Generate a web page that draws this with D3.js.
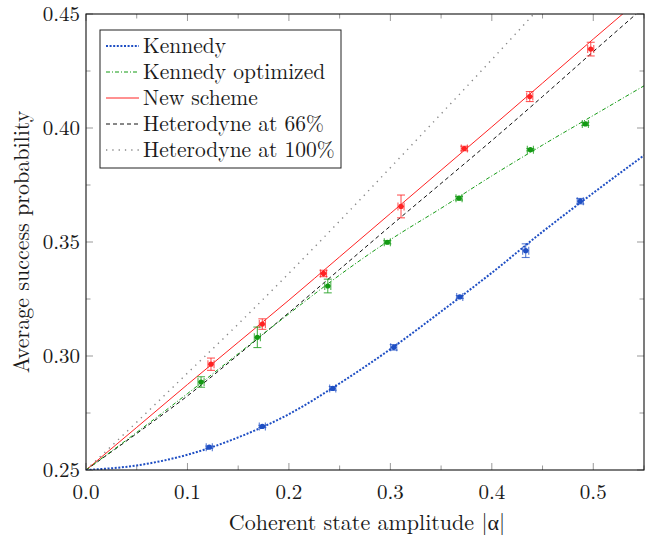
<!DOCTYPE html>
<html>
<head>
<meta charset="utf-8">
<script src="https://cdn.jsdelivr.net/npm/d3@7"></script>
<style>
  body { margin: 0; background: #fff; }
  text { font-family: "Latin Modern Roman", "CMU Serif", "Liberation Serif", serif; fill: #1a1a1a; }
</style>
</head>
<body>
<div id="chart"></div>
<script>
// --------------- Data ---------------
const curveAlpha = [0, 0.05, 0.1, 0.15, 0.2, 0.25, 0.3, 0.35, 0.4, 0.45, 0.5, 0.55];
const kennedyCurve = [0.25, 0.252, 0.2567, 0.2643, 0.2745, 0.288, 0.303, 0.3195, 0.3365, 0.3545, 0.3715, 0.388];
const optimizedCurve = [0.25, 0.2665, 0.2835, 0.301, 0.3185, 0.3355, 0.351, 0.3648, 0.379, 0.3925, 0.4055, 0.4185];
const newSchemeCurve = [0.25, 0.2687, 0.2875, 0.306, 0.3245, 0.3435, 0.3625, 0.3815, 0.4005, 0.4197, 0.439, 0.458];
const het66Curve = [0.25, 0.266, 0.2825, 0.3005, 0.319, 0.338, 0.357, 0.3757, 0.3945, 0.4138, 0.4335, 0.453];
const het100Curve = [0.25, 0.271, 0.2925, 0.314, 0.3363, 0.3592, 0.3826, 0.4062, 0.43, 0.4542, 0.4785, 0.503];

const kennedyAlpha = [0.1215, 0.1738, 0.2432, 0.3033, 0.3684, 0.4334, 0.4872];
const kennedyProb = [0.26, 0.2691, 0.2858, 0.3038, 0.3259, 0.3462, 0.3679];
const kennedyErr = [0.0005, 0.0005, 0.0008, 0.0012, 0.0006, 0.003, 0.0012];

const optimizedAlpha = [0.1134, 0.1689, 0.2383, 0.297, 0.3677, 0.438, 0.4922];
const optimizedProb = [0.2886, 0.3082, 0.3307, 0.3499, 0.3692, 0.3905, 0.4018];
const optimizedErr = [0.0023, 0.0045, 0.003, 0.0007, 0.0008, 0.0005, 0.0007];

const newSchemeAlpha = [0.1232, 0.1738, 0.2341, 0.3105, 0.3729, 0.4374, 0.4975];
const newSchemeProb = [0.2964, 0.314, 0.3362, 0.3656, 0.391, 0.4138, 0.4346];
const newSchemeErr = [0.0027, 0.0023, 0.0014, 0.005, 0.001, 0.0022, 0.003];

const alphaErr = [0.003, 0.003, 0.003, 0.003, 0.003, 0.003, 0.003];

const xTicks = [0, 0.1, 0.2, 0.3, 0.4, 0.5];
const xMinorTicks = [0.05, 0.15, 0.25, 0.35, 0.45, 0.55];
const yTicks = [0.25, 0.3, 0.35, 0.4, 0.45];
const yMinorTicks = [0.275, 0.325, 0.375, 0.425];

const legendLabels = ["Kennedy", "Kennedy optimized", "New scheme", "Heterodyne at 66%", "Heterodyne at 100%"];

// --------------- Constants ---------------
const WIDTH = 651;
const HEIGHT = 535;
const PLOT = { left: 86, right: 644, top: 14, bottom: 470 };
const TICK_COLOR = "#999";
const TICK_FONT = 21;
const LABEL_FONT = 22;

const BLUE = "#1f4fc4";
const GREEN = "#139a13";
const RED = "#ff2222";

const styles = [
  { color: BLUE, width: 2, dash: "2,1.6" },
  { color: GREEN, width: 1, dash: "4,2,1,2" },
  { color: RED, width: 1, dash: null },
  { color: "#111", width: 1, dash: "4,3" },
  { color: "#888", width: 1.4, dash: "1.3,5" },
];

const x = d3.scaleLinear().domain([0, 0.55]).range([PLOT.left, PLOT.right]);
const y = d3.scaleLinear().domain([0.25, 0.45]).range([PLOT.bottom, PLOT.top]);

const svg = d3
  .select("#chart")
  .append("svg")
  .attr("width", WIDTH)
  .attr("height", HEIGHT);

svg.append("rect").attr("width", WIDTH).attr("height", HEIGHT).attr("fill", "#fff");

svg
  .append("clipPath")
  .attr("id", "plot-clip")
  .append("rect")
  .attr("x", PLOT.left)
  .attr("y", PLOT.top)
  .attr("width", PLOT.right - PLOT.left)
  .attr("height", PLOT.bottom - PLOT.top);

// --------------- Ticks (pgfplots style, inward on all four sides) ---------------
function renderTicks() {
  const g = svg.append("g").attr("stroke", TICK_COLOR).attr("stroke-width", 1);
  const major = 7;
  const minor = 4.5;

  [[xTicks, major], [xMinorTicks, minor]].forEach(([ticks, len]) => {
    ticks.forEach((t) => {
      g.append("line").attr("x1", x(t)).attr("x2", x(t)).attr("y1", PLOT.bottom).attr("y2", PLOT.bottom - len);
      g.append("line").attr("x1", x(t)).attr("x2", x(t)).attr("y1", PLOT.top).attr("y2", PLOT.top + len);
    });
  });
  [[yTicks, major], [yMinorTicks, minor]].forEach(([ticks, len]) => {
    ticks.forEach((t) => {
      g.append("line").attr("y1", y(t)).attr("y2", y(t)).attr("x1", PLOT.left).attr("x2", PLOT.left + len);
      g.append("line").attr("y1", y(t)).attr("y2", y(t)).attr("x1", PLOT.right).attr("x2", PLOT.right - len);
    });
  });

  svg
    .append("g")
    .selectAll("text")
    .data(xTicks)
    .enter()
    .append("text")
    .attr("x", (d) => x(d))
    .attr("y", PLOT.bottom + 29)
    .attr("text-anchor", "middle")
    .attr("font-size", TICK_FONT)
    .text((d) => d.toFixed(1));

  svg
    .append("g")
    .selectAll("text")
    .data(yTicks)
    .enter()
    .append("text")
    .attr("x", PLOT.left - 6)
    .attr("y", (d) => y(d) + 7)
    .attr("text-anchor", "end")
    .attr("font-size", TICK_FONT)
    .text((d) => d.toFixed(2));
}

// --------------- Curves ---------------
function renderCurves() {
  const line = d3
    .line()
    .x((d) => x(d[0]))
    .y((d) => y(d[1]))
    .curve(d3.curveMonotoneX);

  const curves = [kennedyCurve, optimizedCurve, newSchemeCurve, het66Curve, het100Curve];
  const g = svg.append("g").attr("clip-path", "url(#plot-clip)");

  // draw in reverse so the measured schemes sit on top of the heterodyne references
  curves
    .map((c, i) => ({ c, i }))
    .reverse()
    .forEach(({ c, i }) => {
      g.append("path")
        .attr("d", line(curveAlpha.map((a, k) => [a, c[k]])))
        .attr("fill", "none")
        .attr("stroke", styles[i].color)
        .attr("stroke-width", styles[i].width)
        .attr("stroke-dasharray", styles[i].dash);
    });
}

// --------------- Measured points with error bars ---------------
function renderPoints(alpha, prob, err, color) {
  const cap = 4;
  const pts = alpha.map((a, i) => ({ a, p: prob[i], e: err[i], ea: alphaErr[i] }));
  const g = svg.append("g");

  const bars = g
    .selectAll("g")
    .data(pts)
    .enter()
    .append("g")
    .attr("stroke", color)
    .attr("stroke-opacity", 0.75)
    .attr("stroke-width", 1.1);

  // vertical error
  bars.append("line").attr("x1", (d) => x(d.a)).attr("x2", (d) => x(d.a))
    .attr("y1", (d) => y(d.p - d.e)).attr("y2", (d) => y(d.p + d.e));
  bars.append("line").attr("x1", (d) => x(d.a) - cap).attr("x2", (d) => x(d.a) + cap)
    .attr("y1", (d) => y(d.p + d.e)).attr("y2", (d) => y(d.p + d.e));
  bars.append("line").attr("x1", (d) => x(d.a) - cap).attr("x2", (d) => x(d.a) + cap)
    .attr("y1", (d) => y(d.p - d.e)).attr("y2", (d) => y(d.p - d.e));
  // horizontal error
  bars.append("line").attr("x1", (d) => x(d.a - d.ea)).attr("x2", (d) => x(d.a + d.ea))
    .attr("y1", (d) => y(d.p)).attr("y2", (d) => y(d.p));
  bars.append("line").attr("x1", (d) => x(d.a - d.ea)).attr("x2", (d) => x(d.a - d.ea))
    .attr("y1", (d) => y(d.p) - cap).attr("y2", (d) => y(d.p) + cap);
  bars.append("line").attr("x1", (d) => x(d.a + d.ea)).attr("x2", (d) => x(d.a + d.ea))
    .attr("y1", (d) => y(d.p) - cap).attr("y2", (d) => y(d.p) + cap);

  g.selectAll("circle")
    .data(pts)
    .enter()
    .append("circle")
    .attr("cx", (d) => x(d.a))
    .attr("cy", (d) => y(d.p))
    .attr("r", 2.6)
    .attr("fill", color);
}

// --------------- Frame, legend and labels ---------------
function renderFrame() {
  svg
    .append("rect")
    .attr("x", PLOT.left)
    .attr("y", PLOT.top)
    .attr("width", PLOT.right - PLOT.left)
    .attr("height", PLOT.bottom - PLOT.top)
    .attr("fill", "none")
    .attr("stroke", "#111")
    .attr("stroke-width", 1.1);
}

function renderLegend() {
  const g = svg.append("g");
  g.append("rect")
    .attr("x", 100)
    .attr("y", 30)
    .attr("width", 241)
    .attr("height", 138)
    .attr("fill", "#fff")
    .attr("stroke", "#222")
    .attr("stroke-width", 1);

  const rows = g
    .selectAll("g")
    .data(legendLabels)
    .enter()
    .append("g")
    .attr("transform", (_d, i) => `translate(0, ${46 + i * 26})`);

  rows
    .append("line")
    .attr("x1", 106)
    .attr("x2", 139)
    .attr("stroke", (_d, i) => styles[i].color)
    .attr("stroke-width", (_d, i) => styles[i].width)
    .attr("stroke-dasharray", (_d, i) => styles[i].dash);

  rows
    .append("text")
    .attr("x", 143)
    .attr("y", 7)
    .attr("font-size", 21.5)
    .text((d) => d);
}

function renderLabels() {
  svg
    .append("text")
    .attr("x", (PLOT.left + PLOT.right) / 2 + 2)
    .attr("y", 530)
    .attr("text-anchor", "middle")
    .attr("font-size", LABEL_FONT)
    .text("Coherent state amplitude |α|");

  svg
    .append("text")
    .attr("transform", `translate(29, ${(PLOT.top + PLOT.bottom) / 2}) rotate(-90)`)
    .attr("text-anchor", "middle")
    .attr("font-size", LABEL_FONT)
    .text("Average success probability");
}

renderTicks();
renderCurves();
renderPoints(kennedyAlpha, kennedyProb, kennedyErr, BLUE);
renderPoints(optimizedAlpha, optimizedProb, optimizedErr, GREEN);
renderPoints(newSchemeAlpha, newSchemeProb, newSchemeErr, RED);
renderFrame();
renderLegend();
renderLabels();
</script>
</body>
</html>
